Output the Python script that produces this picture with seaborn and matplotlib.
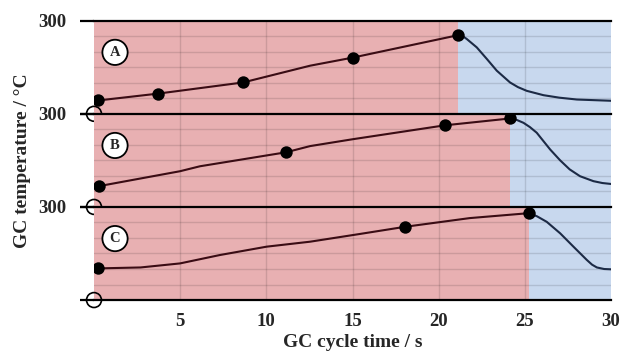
import matplotlib
matplotlib.use("Agg")
import matplotlib.pyplot as plt
import seaborn as sns

sns.set_style("white")
plt.rcParams['font.family'] = ['Liberation Serif', 'DejaVu Serif']
plt.rcParams['font.weight'] = 'bold'

# ---- data (time in s, temperature in °C, each panel 0..300) ----
panels = ["A", "B", "C"]

# heating curves (traced points)
heat_t_A = [0.25, 3.71, 8.65, 12.54, 15.01, 21.1]
heat_T_A = [43, 65, 101, 155, 181, 253]
heat_t_B = [0.29, 4.99, 6.15, 11.14, 12.54, 15.0, 20.37, 24.14]
heat_T_B = [67, 115, 131, 176, 196, 218, 263, 285]
heat_t_C = [0.25, 2.7, 4.99, 7.3, 10.02, 12.54, 15.44, 18.05, 21.8, 25.25]
heat_T_C = [102, 105, 118, 145, 172, 188, 213, 236, 264, 280]

# cooling curves
cool_t_A = [21.1, 21.4, 21.63, 22.21, 22.79, 23.37, 24.14, 24.6, 25.11, 26.08, 27.0, 28.02, 30.0]
cool_T_A = [253, 250, 241, 214, 177, 139, 101, 86, 74, 60, 52, 46, 42]
cool_t_B = [24.14, 24.5, 24.92, 25.3, 25.69, 26.47, 27.05, 27.6, 28.2, 28.98, 29.5, 30.0]
cool_T_B = [285, 281, 271, 257, 239, 185, 150, 121, 99, 83, 77, 74]
cool_t_C = [25.25, 25.7, 26.27, 27.05, 27.82, 28.6, 28.9, 29.18, 29.6, 30.0]
cool_T_C = [279, 270, 252, 215, 172, 129, 114, 105, 100, 99]

# marked points
dot_t_A = [0.25, 3.71, 8.65, 15.01, 21.1]
dot_T_A = [43, 65, 101, 181, 253]
dot_t_B = [0.29, 11.14, 20.37, 24.14]
dot_T_B = [67, 176, 263, 285]
dot_t_C = [0.25, 18.05, 25.25]
dot_T_C = [102, 236, 280]

x_ticks = [5, 10, 15, 20, 25, 30]
y_tick_label = "300"

heat = [(heat_t_A, heat_T_A), (heat_t_B, heat_T_B), (heat_t_C, heat_T_C)]
cool = [(cool_t_A, cool_T_A), (cool_t_B, cool_T_B), (cool_t_C, cool_T_C)]
dots = [(dot_t_A, dot_T_A), (dot_t_B, dot_T_B), (dot_t_C, dot_T_C)]

pink = "#E8B0B2"
blue = "#C8D8EE"
heat_col = "#3a0c14"
cool_col = "#1c2a45"

fig, axes = plt.subplots(3, 1, figsize=(6.2, 3.53), dpi=100, sharex=True)
fig.subplots_adjust(left=0.1516, right=0.9855, top=0.9414, bottom=0.150, hspace=0)

for i, ax in enumerate(axes):
    ht, hT = heat[i]
    ct, cT = cool[i]
    dt, dT = dots[i]
    t_switch = ht[-1]
    ax.axvspan(0, t_switch, color=pink, lw=0, zorder=0)
    ax.axvspan(t_switch, 30, color=blue, lw=0, zorder=0)
    for g in [50, 100, 150, 200, 250]:
        ax.axhline(g, color="black", alpha=0.12, lw=1.0, zorder=1)
    for g in [5, 10, 15, 20, 25]:
        ax.axvline(g, color="black", alpha=0.12, lw=1.0, zorder=1)
    sns.lineplot(x=ht, y=hT, ax=ax, color=heat_col, lw=1.5, sort=False, zorder=3)
    sns.lineplot(x=ct, y=cT, ax=ax, color=cool_col, lw=1.5, sort=False, zorder=3)
    sns.scatterplot(x=dt, y=dT, ax=ax, color="black", s=80, edgecolor="black",
                    linewidth=0, zorder=5)
    ax.scatter([0], [0], s=115, facecolor="none", edgecolor="black", lw=1.2,
               zorder=6, clip_on=False)
    ax.text(1.22, 198, panels[i], ha="center", va="center", fontsize=10.5,
            fontweight="bold", zorder=7,
            bbox=dict(boxstyle="circle,pad=0.42", fc="white", ec="black", lw=1.3))
    ax.set_xlim(0, 30)
    ax.set_ylim(0, 300)
    ax.set_yticks([0, 300])
    ax.set_yticklabels(["", y_tick_label])
    ax.tick_params(axis="y", length=10, width=1.6, color="black", pad=10,
                   labelsize=13.5, left=True)
    ax.tick_params(axis="x", length=0, pad=9, labelsize=13.5)
    for s in ["left", "right", "bottom"]:
        ax.spines[s].set_visible(False)
    ax.spines["top"].set_visible(True)
    ax.spines["top"].set_color("black")
    ax.spines["top"].set_linewidth(1.6)
    ax.spines["top"].set_zorder(4)
    for lab in ax.get_yticklabels():
        lab.set_fontweight("bold")
    ax.set_ylabel("")
    ax.set_xlabel("")

axes[-1].spines["bottom"].set_visible(True)
axes[-1].spines["bottom"].set_color("black")
axes[-1].spines["bottom"].set_linewidth(1.6)
axes[-1].set_xticks(x_ticks)
axes[-1].set_xticklabels([str(v) for v in x_ticks], fontweight="bold")
axes[-1].set_xlabel("GC cycle time / s", fontsize=14, fontweight="bold", labelpad=3)
fig.text(0.036, 0.546, "GC temperature / °C", rotation=90, ha="center", va="center",
         fontsize=14, fontweight="bold")

fig.savefig("out.png", dpi=100)
